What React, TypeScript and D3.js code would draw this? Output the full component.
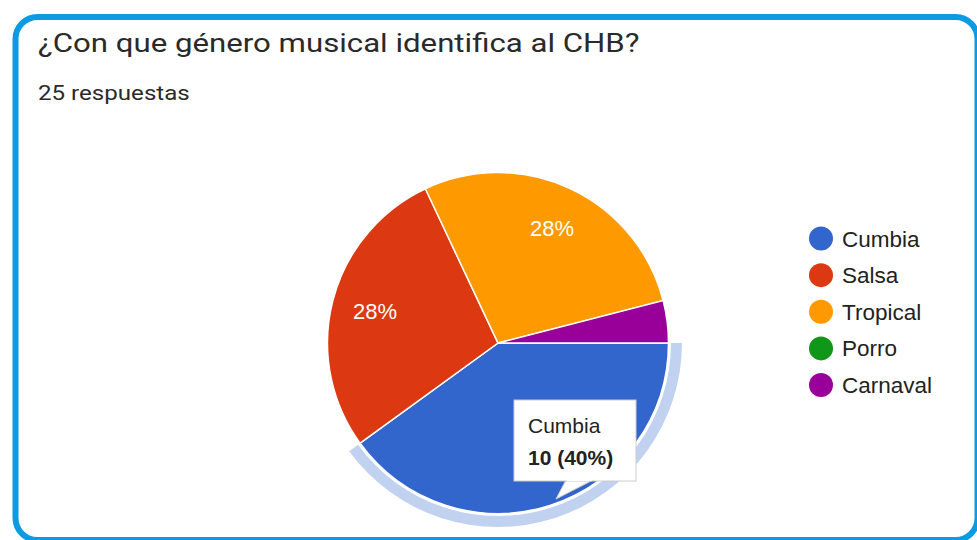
import React from "react";
import * as d3 from "d3";

const categories = ["Cumbia", "Salsa", "Tropical", "Porro", "Carnaval"];
const counts = [10, 7, 7, 0, 1];
const colors = ["#3366cc", "#dc3912", "#ff9900", "#109618", "#990099"];
const title = "¿Con que género musical identifica al CHB?";
const subtitle = "25 respuestas";
const highlighted = 0;

const W = 977;
const H = 540;

export default function App() {
  const total = d3.sum(counts);
  const cx = 498;
  const cy = 343;
  const r = 170.5;
  const pie = d3
    .pie<number>()
    .sort(null)
    .value((d) => d)
    .startAngle(Math.PI / 2)
    .endAngle(Math.PI / 2 + 2 * Math.PI);
  const arcs = pie(counts);
  const arc = d3.arc<d3.PieArcDatum<number>>().innerRadius(0).outerRadius(r);
  const ring = d3
    .arc<d3.PieArcDatum<number>>()
    .innerRadius(r + 2.5)
    .outerRadius(r + 13.5);
  const labelArc = d3
    .arc<d3.PieArcDatum<number>>()
    .innerRadius(r * 0.745)
    .outerRadius(r * 0.745);
  const legendY = d3
    .scalePoint<string>()
    .domain(categories)
    .range([238.5, 385]);

  const hl = arcs[highlighted];
  const pct = (v: number) => `${Math.round((v / total) * 100)}%`;

  return (
    <svg
      width={W}
      height={H}
      style={{ position: "absolute", left: 0, top: 0, background: "#fff" }}
      fontFamily="Arial, 'Liberation Sans', sans-serif"
    >
      <rect x={0} y={0} width={W} height={H} fill="#fff" />
      <rect
        x={15.5}
        y={17}
        width={962}
        height={523}
        rx={22}
        fill="#fff"
        stroke="#0a9be2"
        strokeWidth={6}
      />
      <text
        transform="translate(38,52) scale(1.15,1)"
        fontFamily="Roboto, sans-serif"
        fontSize={26.5}
        fill="#2a2a2a"
        textLength={523}
        lengthAdjust="spacingAndGlyphs"
      >
        {title}
      </text>
      <text
        transform="translate(38,100) scale(1.15,1)"
        fontFamily="Roboto, sans-serif"
        fontSize={20.5}
        fill="#2a2a2a"
        textLength={132}
        lengthAdjust="spacingAndGlyphs"
      >
        {subtitle}
      </text>
      <g transform={`translate(${cx},${cy})`}>
        <path d={ring(hl) || ""} fill={colors[highlighted]} fillOpacity={0.3} />
        {arcs.map((a, i) =>
          a.value > 0 ? (
            <path
              key={categories[i]}
              d={arc(a) || ""}
              fill={colors[i]}
              stroke="#fff"
              strokeWidth={1.5}
            />
          ) : null
        )}
        {arcs.map((a, i) => {
          if (a.value / total < 0.1 || i === highlighted) return null;
          const [lx, ly] = labelArc.centroid(a);
          return (
            <text
              key={"l" + i}
              x={lx}
              y={ly + 8}
              textAnchor="middle"
              fontSize={22}
              fill="#fff"
            >
              {pct(a.value)}
            </text>
          );
        })}
      </g>
      <g>
        <path
          d="M566,480 L593,480 L556,499 Z"
          fill="#fff"
          stroke="#ccc"
          strokeWidth={1}
        />
        <rect
          x={514}
          y={400}
          width={122}
          height={81}
          fill="#fff"
          stroke="#ccc"
          strokeWidth={1}
        />
        <path d="M567,480 L592,480" stroke="#fff" strokeWidth={2} />
        <text x={528} y={433} fontSize={21} fill="#222">
          {categories[highlighted]}
        </text>
        <text x={528} y={465} fontSize={21} fontWeight="bold" fill="#222">
          {`${counts[highlighted]} (${pct(counts[highlighted])})`}
        </text>
      </g>
      <g>
        {categories.map((c, i) => (
          <g key={c} transform={`translate(0,${legendY(c)})`}>
            <circle cx={821} cy={0} r={12} fill={colors[i]} />
            <text x={842} y={8} fontSize={22.5} fill="#222">
              {c}
            </text>
          </g>
        ))}
      </g>
    </svg>
  );
}
